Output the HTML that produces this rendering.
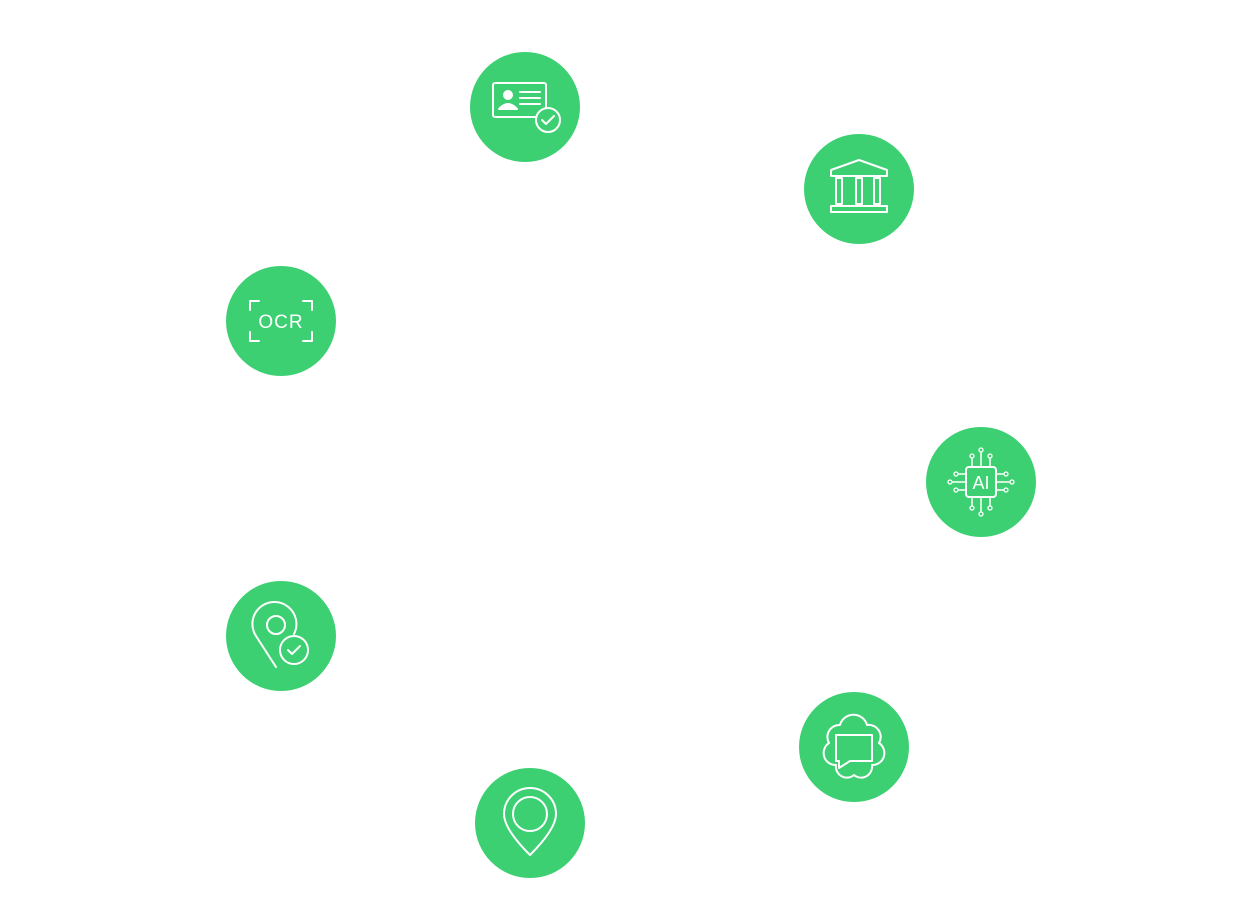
<!DOCTYPE html>
<html><head><meta charset="utf-8"><style>html,body{margin:0;padding:0;background:#fff;}svg{display:block}</style></head>
<body>
<svg width="1240" height="923" viewBox="0 0 1240 923" xmlns="http://www.w3.org/2000/svg" font-family="Liberation Sans, sans-serif">
<g fill="#3CD073">
<circle cx="525" cy="107" r="55"/>
<circle cx="859" cy="189" r="55"/>
<circle cx="281" cy="321" r="55"/>
<circle cx="981" cy="482" r="55"/>
<circle cx="281" cy="636" r="55"/>
<circle cx="854" cy="747" r="55"/>
<circle cx="530" cy="823" r="55"/>
</g>
<g fill="none" stroke="#fff" stroke-width="2" stroke-linecap="round" stroke-linejoin="round">
<!-- ID card -->
<rect x="493" y="83" width="53" height="34" rx="2"/>
<circle cx="508" cy="95" r="4" fill="#fff"/>
<path d="M499 109 q9 -10 18 0 z" fill="#fff"/>
<line x1="520" y1="92" x2="540" y2="92"/><line x1="520" y1="98" x2="540" y2="98"/><line x1="520" y1="104" x2="540" y2="104"/>
<circle cx="548" cy="120" r="12" fill="#3CD073"/>
<path d="M542 120 l4 4 l8 -8"/>
<!-- bank -->
<path d="M831 170 l28 -10 l28 10 v6 h-56 z"/>
<rect x="836" y="178" width="6" height="26"/><rect x="856" y="178" width="6" height="26"/><rect x="874" y="178" width="6" height="26"/>
<rect x="831" y="206" width="56" height="6"/>
<!-- OCR -->
<path d="M250 310 v-9 h9 M303 301 h9 v9 M312 332 v9 h-9 M259 341 h-9 v-9"/>
<!-- AI chip -->
<rect x="966" y="467" width="30" height="30" rx="3"/>
<path d="M972 467 v-10 M981 467 v-15 M990 467 v-10 M972 497 v10 M981 497 v15 M990 497 v10 M966 474 h-8 M966 482 h-13 M966 490 h-8 M996 474 h8 M996 482 h13 M996 490 h8" stroke-width="1.5"/>
<g stroke-width="1.3" fill="#3CD073"><circle cx="972" cy="456" r="2"/><circle cx="981" cy="450" r="2"/><circle cx="990" cy="456" r="2"/><circle cx="972" cy="508" r="2"/><circle cx="981" cy="514" r="2"/><circle cx="990" cy="508" r="2"/><circle cx="956" cy="474" r="2"/><circle cx="950" cy="482" r="2"/><circle cx="956" cy="490" r="2"/><circle cx="1006" cy="474" r="2"/><circle cx="1012" cy="482" r="2"/><circle cx="1006" cy="490" r="2"/></g>
<!-- location check -->
<path d="M276 667 l-20 -31 a22 22 0 1 1 38 -2"/>
<circle cx="276" cy="625" r="9"/>
<circle cx="294" cy="650" r="14" fill="#3CD073"/>
<path d="M288 650 l4 4 l8 -8"/>
<!-- chat cloud -->
<path d="M840 725 a14 14 0 0 1 27 0 a12 12 0 0 1 12 18 a12 12 0 0 1 -7 22 a11 11 0 0 1 -18 10 a11 11 0 0 1 -18 -10 a12 12 0 0 1 -7 -22 a12 12 0 0 1 11 -18 z"/>
<path d="M836 735 h36 v26 h-22 l-11 7 v-7 h-3 z" fill="#3CD073"/>
<!-- pin -->
<path d="M530 855 q-26 -26 -26 -41 a26 26 0 0 1 52 0 q0 15 -26 41 z"/>
<circle cx="530" cy="814" r="17"/>
</g>
<text x="281" y="328" text-anchor="middle" fill="#fff" font-size="19" letter-spacing="1">OCR</text>
<text x="981" y="489" text-anchor="middle" fill="#fff" font-size="18">AI</text>
</svg>
</body></html>
